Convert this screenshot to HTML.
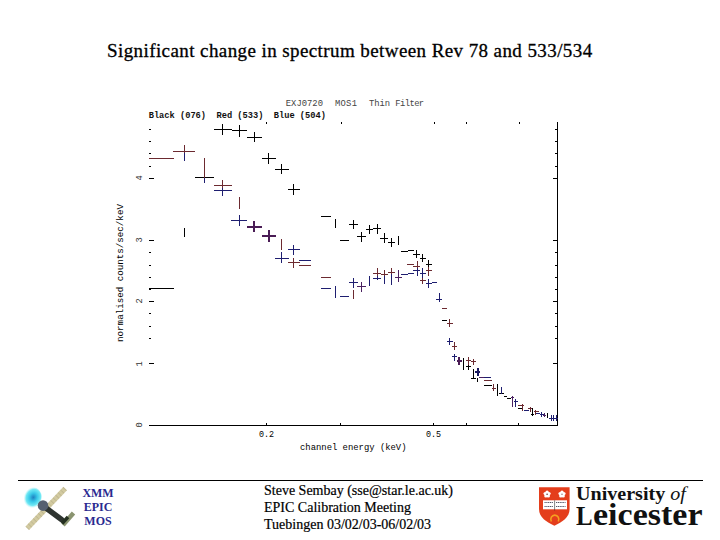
<!DOCTYPE html>
<html><head><meta charset="utf-8">
<style>
html,body{margin:0;padding:0;background:#fff;}
body{width:720px;height:540px;position:relative;overflow:hidden;}
.t{position:absolute;white-space:pre;}
.serif{font-family:"Liberation Serif",serif;}
.mono{font-family:"Liberation Mono",monospace;}
svg{position:absolute;left:0;top:0;}
</style></head><body>
<div class="t serif" id="title" style="left:107px;top:40px;font-size:19px;letter-spacing:0.41px;line-height:22px;color:#000;-webkit-text-stroke:0.3px #000">Significant change in spectrum between Rev 78 and 533/534</div>

<svg width="720" height="540" viewBox="0 0 720 540" shape-rendering="crispEdges" fill="none" stroke-width="1">
<path d="M557.5 122V425.5M149 425.5H558" stroke="#000"/>
<path d="M266.5 423V425M340.5 423V425M433.5 423V425M466.5 423V425M518.5 423V425" stroke="#000"/>
<path d="M266.5 122V124M341.5 122V124M434.5 122V124M466.5 122V124M519.5 122V124" stroke="#000"/>
<path d="M149 425.5H154M553 425.5H558" stroke="#000"/>
<path d="M149 363.5H154M553 363.5H558" stroke="#000"/>
<path d="M149 301.5H154M553 301.5H558" stroke="#000"/>
<path d="M149 240.5H154M553 240.5H558" stroke="#000"/>
<path d="M149 178.5H154M553 178.5H558" stroke="#000"/>
<path d="M149 129.5H151M555 129.5H558" stroke="#000"/>
<path d="M149 141.5H151M555 141.5H558" stroke="#000"/>
<path d="M149 153.5H151M555 153.5H558" stroke="#000"/>
<path d="M149 166.5H151M555 166.5H558" stroke="#000"/>
<path d="M149 252.5H151M555 252.5H558" stroke="#000"/>
<path d="M149 265.5H151M555 265.5H558" stroke="#000"/>
<path d="M149 277.5H151M555 277.5H558" stroke="#000"/>
<path d="M149 289.5H151M555 289.5H558" stroke="#000"/>
<path d="M149 313.5H151M555 313.5H558" stroke="#000"/>
<path d="M149 326.5H151M555 326.5H558" stroke="#000"/>
<path d="M149 338.5H151M555 338.5H558" stroke="#000"/>
<path d="M149 288.5H174" stroke="#000000"/>
<path d="M184.5 228V237" stroke="#000000"/>
<path d="M195 177.5H214" stroke="#000000"/>
<path d="M214 129.5H232" stroke="#000000"/>
<path d="M222.5 124V135" stroke="#000000"/>
<path d="M232 130.5H247" stroke="#000000"/>
<path d="M239.5 125V137" stroke="#000000"/>
<path d="M247 137.5H262" stroke="#000000"/>
<path d="M254.5 132V142" stroke="#000000"/>
<path d="M262 158.5H276" stroke="#000000"/>
<path d="M268.5 153V164" stroke="#000000"/>
<path d="M275 169.5H289" stroke="#000000"/>
<path d="M281.5 164V174" stroke="#000000"/>
<path d="M288 189.5H300" stroke="#000000"/>
<path d="M293.5 184V195" stroke="#000000"/>
<path d="M321 216.5H331" stroke="#000000"/>
<path d="M335.5 219V228" stroke="#000000"/>
<path d="M340 240.5H349" stroke="#000000"/>
<path d="M349 224.5H358" stroke="#000000"/>
<path d="M353.5 220V229" stroke="#000000"/>
<path d="M357 236.5H366" stroke="#000000"/>
<path d="M361.5 232V242" stroke="#000000"/>
<path d="M366 229.5H373" stroke="#000000"/>
<path d="M369.5 225V234" stroke="#000000"/>
<path d="M373 228.5H381" stroke="#000000"/>
<path d="M377.5 224V234" stroke="#000000"/>
<path d="M380 238.5H388" stroke="#000000"/>
<path d="M384.5 233V243" stroke="#000000"/>
<path d="M388 242.5H395" stroke="#000000"/>
<path d="M391.5 238V247" stroke="#000000"/>
<path d="M398.5 236V245" stroke="#000000"/>
<path d="M401 251.5H408" stroke="#000000"/>
<path d="M408 250.5H414" stroke="#000000"/>
<path d="M413 254.5H420" stroke="#000000"/>
<path d="M416.5 250V258" stroke="#000000"/>
<path d="M420 258.5H426" stroke="#000000"/>
<path d="M422.5 254V262" stroke="#000000"/>
<path d="M426 264.5H432" stroke="#000000"/>
<path d="M428.5 260V268" stroke="#000000"/>
<path d="M442 320.5H447" stroke="#000000"/>
<path d="M463.5 358V370" stroke="#000000"/>
<path d="M466 366.5H471" stroke="#000000"/>
<path d="M468.5 362V370" stroke="#000000"/>
<path d="M473.5 369V378" stroke="#000000"/>
<path d="M471 378.5H476" stroke="#000000"/>
<path d="M477.5 378V382" stroke="#000000"/>
<path d="M484 385.5H492" stroke="#000000"/>
<path d="M497.5 384V396" stroke="#000000"/>
<path d="M501.5 388V394" stroke="#000000"/>
<path d="M499 393.5H504" stroke="#000000"/>
<path d="M504 396.5H507" stroke="#000000"/>
<path d="M507 398.5H511" stroke="#000000"/>
<path d="M518 408.5H522" stroke="#000000"/>
<path d="M532.5 408V416" stroke="#000000"/>
<path d="M531 414.5H534" stroke="#000000"/>
<path d="M547.5 413V418" stroke="#000000"/>
<path d="M149 158.5H174" stroke="#6c2a30"/>
<path d="M173 151.5H195" stroke="#6c2a30"/>
<path d="M184.5 145V153" stroke="#6c2a30"/>
<path d="M204.5 158V178" stroke="#6c2a30"/>
<path d="M214 185.5H232" stroke="#6c2a30"/>
<path d="M222.5 180V188" stroke="#6c2a30"/>
<path d="M239.5 197V209" stroke="#6c2a30"/>
<path d="M247 227H262" stroke="#4a1c55" stroke-width="2"/>
<path d="M254 221V232" stroke="#4a1c55" stroke-width="2"/>
<path d="M262 236H276" stroke="#4a1c55" stroke-width="2"/>
<path d="M269 230V242" stroke="#4a1c55" stroke-width="2"/>
<path d="M281.5 239V250" stroke="#6c2a30"/>
<path d="M288 262.5H300" stroke="#6c2a30"/>
<path d="M293.5 258V268" stroke="#6c2a30"/>
<path d="M299 265.5H311" stroke="#6c2a30"/>
<path d="M321 277.5H331" stroke="#6c2a30"/>
<path d="M353.5 290V299" stroke="#6c2a30"/>
<path d="M357 286.5H366" stroke="#4a2060"/>
<path d="M361.5 282V292" stroke="#4a2060"/>
<path d="M373 273.5H381" stroke="#6c2a30"/>
<path d="M377.5 268V276" stroke="#6c2a30"/>
<path d="M381 274.5H388" stroke="#6c2a30"/>
<path d="M384.5 270V276" stroke="#6c2a30"/>
<path d="M388 272.5H395" stroke="#6c2a30"/>
<path d="M391.5 268V274" stroke="#6c2a30"/>
<path d="M395 277.5H402" stroke="#4a2060"/>
<path d="M398.5 270V282" stroke="#4a2060"/>
<path d="M407 264.5H414" stroke="#6c2a30"/>
<path d="M413 266.5H420" stroke="#6c2a30"/>
<path d="M417.5 261V271" stroke="#6c2a30"/>
<path d="M426 270.5H432" stroke="#6c2a30"/>
<path d="M428.5 267V276" stroke="#6c2a30"/>
<path d="M420 280.5H426" stroke="#6c2a30"/>
<path d="M422.5 276V284" stroke="#6c2a30"/>
<path d="M442 308.5H447" stroke="#6c2a30"/>
<path d="M447 323.5H453" stroke="#6c2a30"/>
<path d="M449.5 319V327" stroke="#6c2a30"/>
<path d="M452 346.5H457" stroke="#6c2a30"/>
<path d="M454.5 342V350" stroke="#6c2a30"/>
<path d="M466 360.5H471" stroke="#6c2a30"/>
<path d="M468.5 357V365" stroke="#6c2a30"/>
<path d="M471 361.5H476" stroke="#6c2a30"/>
<path d="M473.5 359V365" stroke="#6c2a30"/>
<path d="M484 380.5H492" stroke="#6c2a30"/>
<path d="M492 388.5H496" stroke="#6c2a30"/>
<path d="M493.5 384V391" stroke="#6c2a30"/>
<path d="M511 397.5H514" stroke="#4a2060"/>
<path d="M512.5 396V407" stroke="#4a2060"/>
<path d="M518 405.5H524" stroke="#6c2a30"/>
<path d="M522.5 404V411" stroke="#6c2a30"/>
<path d="M528 408.5H532" stroke="#6c2a30"/>
<path d="M530.5 407V412" stroke="#6c2a30"/>
<path d="M534 411.5H539" stroke="#6c2a30"/>
<path d="M535.5 410V415" stroke="#6c2a30"/>
<path d="M184.5 153V161" stroke="#1e1e70"/>
<path d="M204.5 178V183" stroke="#1e1e70"/>
<path d="M214 190.5H232" stroke="#1e1e70"/>
<path d="M222.5 188V196" stroke="#1e1e70"/>
<path d="M231 220.5H247" stroke="#1e1e70"/>
<path d="M239.5 215V226" stroke="#1e1e70"/>
<path d="M275 258.5H289" stroke="#1e1e70"/>
<path d="M281.5 252V263" stroke="#1e1e70"/>
<path d="M288 249.5H300" stroke="#1e1e70"/>
<path d="M293.5 245V255" stroke="#1e1e70"/>
<path d="M299 260.5H311" stroke="#1e1e70"/>
<path d="M321 288.5H331" stroke="#1e1e70"/>
<path d="M335.5 286V298" stroke="#1e1e70"/>
<path d="M340 296.5H349" stroke="#1e1e70"/>
<path d="M349 282.5H358" stroke="#1e1e70"/>
<path d="M353.5 278V288" stroke="#1e1e70"/>
<path d="M369.5 276V286" stroke="#1e1e70"/>
<path d="M373 278.5H381" stroke="#1e1e70"/>
<path d="M377.5 276V280" stroke="#1e1e70"/>
<path d="M384.5 276V284" stroke="#1e1e70"/>
<path d="M391.5 274V285" stroke="#1e1e70"/>
<path d="M401 274.5H408" stroke="#1e1e70"/>
<path d="M408 273.5H414" stroke="#1e1e70"/>
<path d="M413 270.5H420" stroke="#1e1e70"/>
<path d="M417.5 268V276" stroke="#1e1e70"/>
<path d="M420 273.5H426" stroke="#1e1e70"/>
<path d="M422.5 268V278" stroke="#1e1e70"/>
<path d="M426 283.5H432" stroke="#1e1e70"/>
<path d="M428.5 279V288" stroke="#1e1e70"/>
<path d="M432 282.5H437" stroke="#1e1e70"/>
<path d="M436 299.5H442" stroke="#1e1e70"/>
<path d="M439.5 293V302" stroke="#1e1e70"/>
<path d="M447 341.5H453" stroke="#1e1e70"/>
<path d="M449.5 338V345" stroke="#1e1e70"/>
<path d="M452 356.5H457" stroke="#1e1e70"/>
<path d="M454.5 354V361" stroke="#1e1e70"/>
<path d="M457 361H462" stroke="#4a1c55" stroke-width="2"/>
<path d="M459 357V365" stroke="#4a1c55" stroke-width="2"/>
<path d="M475 372H480" stroke="#1a1a60" stroke-width="2"/>
<path d="M478 368V376" stroke="#1a1a60" stroke-width="2"/>
<path d="M479 377.5H484" stroke="#4a2060"/>
<path d="M484 377.5H491" stroke="#1e1e70"/>
<path d="M501.5 387V394" stroke="#1e1e70"/>
<path d="M514 401.5H518" stroke="#1e1e70"/>
<path d="M515.5 399V407" stroke="#1e1e70"/>
<path d="M524 410.5H529" stroke="#1e1e70"/>
<path d="M536 413.5H540" stroke="#1e1e70"/>
<path d="M540 414.5H544" stroke="#1e1e70"/>
<path d="M541.5 412V417" stroke="#1e1e70"/>
<path d="M543 415.5H546" stroke="#4a2060"/>
<path d="M544.5 413V417" stroke="#4a2060"/>
<path d="M549 418.5H558" stroke="#1e1e70"/>
<path d="M551.5 415V421" stroke="#1e1e70"/>
<path d="M553.5 415V421" stroke="#1e1e70"/>
<path d="M556.5 415V421" stroke="#1e1e70"/>
</svg>

<div class="t mono" style="left:285.8px;top:99px;font-size:8.85px;line-height:10px;color:#444">EXJ0720</div><div class="t mono" style="left:334.9px;top:99px;font-size:8.85px;line-height:10px;color:#444;letter-spacing:0.3px">MOS1</div><div class="t mono" style="left:368.9px;top:99px;font-size:8.85px;line-height:10px;color:#444">Thin</div><div class="t mono" style="left:395.3px;top:99px;font-size:8.85px;line-height:10px;color:#444;letter-spacing:-0.6px">Filter</div>
<div class="t mono" style="left:148.7px;top:110.8px;font-size:8.7px;line-height:10px;color:#111;font-weight:bold">Black (076)  Red (533)  Blue (504)</div>
<div class="t mono" style="left:300px;top:442.5px;font-size:8.9px;line-height:10px;color:#000;font-weight:normal">channel energy (keV)</div>
<div class="t mono" style="left:259px;top:429.5px;font-size:8.4px;line-height:10px;color:#000;font-weight:normal">0.2</div>
<div class="t mono" style="left:426px;top:429.5px;font-size:8.4px;line-height:10px;color:#000;font-weight:normal">0.5</div>
<div class="t mono" style="left:121px;top:273px;width:0;height:0;"><div style="position:absolute;left:-70px;top:-5px;width:140px;text-align:center;transform:rotate(-90deg);font-size:9.2px;line-height:10px;color:#000;font-weight:normal">normalised counts/sec/keV</div></div>
<div class="t mono" style="left:140.3px;top:425px;width:0;height:0;"><div style="position:absolute;left:-10px;top:-5px;width:20px;text-align:center;transform:rotate(-90deg);font-size:8.7px;line-height:10px;color:#333;font-weight:normal">0</div></div>
<div class="t mono" style="left:140.3px;top:364px;width:0;height:0;"><div style="position:absolute;left:-10px;top:-5px;width:20px;text-align:center;transform:rotate(-90deg);font-size:8.7px;line-height:10px;color:#333;font-weight:normal">1</div></div>
<div class="t mono" style="left:140.3px;top:301px;width:0;height:0;"><div style="position:absolute;left:-10px;top:-5px;width:20px;text-align:center;transform:rotate(-90deg);font-size:8.7px;line-height:10px;color:#333;font-weight:normal">2</div></div>
<div class="t mono" style="left:140.3px;top:240px;width:0;height:0;"><div style="position:absolute;left:-10px;top:-5px;width:20px;text-align:center;transform:rotate(-90deg);font-size:8.7px;line-height:10px;color:#333;font-weight:normal">3</div></div>
<div class="t mono" style="left:140.3px;top:178px;width:0;height:0;"><div style="position:absolute;left:-10px;top:-5px;width:20px;text-align:center;transform:rotate(-90deg);font-size:8.7px;line-height:10px;color:#333;font-weight:normal">4</div></div>

<div style="position:absolute;left:18px;top:480px;width:685px;height:1px;background:#000"></div>

<div class="t serif" style="left:78.4px;top:486.4px;width:40px;text-align:center;font-size:13px;line-height:14px;font-weight:bold;color:#2a2a90;transform:scaleX(0.92)">XMM<br>EPIC<br>MOS</div>

<div class="t serif" style="left:264px;top:481.7px;font-size:14px;line-height:17px;color:#000;-webkit-text-stroke:0.2px #000">Steve Sembay (sse@star.le.ac.uk)<br>EPIC Calibration Meeting<br>Tuebingen 03/02/03-06/02/03</div>

<svg width="720" height="540" viewBox="0 0 720 540">
<!-- satellite -->
<defs>
<radialGradient id="cy" cx="0.55" cy="0.45" r="0.5"><stop offset="0" stop-color="#2080c0"/><stop offset="0.4" stop-color="#38c8e8"/><stop offset="0.75" stop-color="#70e8f4"/><stop offset="1" stop-color="#c0f4f8" stop-opacity="0"/></radialGradient>
</defs>
<ellipse cx="32" cy="498" rx="9.5" ry="11" transform="rotate(25 32 498)" fill="url(#cy)"/>
<path d="M27.3 528.3L65.2 488.5" stroke="#d2caa0" stroke-width="5"/>
<path d="M27.3 528.3L65.2 488.5" stroke="#a8a080" stroke-width="5" stroke-dasharray="0.6 3" opacity="0.6"/>
<path d="M46 508L61.5 519.5" stroke="#2e3430" stroke-width="5.5" stroke-linecap="round"/>
<circle cx="43" cy="505.6" r="5.3" fill="#566070"/>
<path d="M63 525L73.5 513" stroke="#8a9470" stroke-width="4.5"/>
<path d="M62 523.5L68 517" stroke="#243020" stroke-width="3.5"/>
<!-- shield -->
<path d="M539 487.3H569.6V509C569.6 517.5 562 522 554.4 525.8C546.6 522 539 517.5 539 509Z" fill="#e43e1c"/>
<g fill="#fff"><circle cx="547.1" cy="492.2" r="1.7"/><circle cx="549" cy="493.6" r="1.7"/><circle cx="548.3" cy="495.9" r="1.7"/><circle cx="545.9" cy="495.9" r="1.7"/><circle cx="545.2" cy="493.6" r="1.7"/><circle cx="547.1" cy="494.4" r="1.5"/>
<circle cx="562" cy="492.2" r="1.7"/><circle cx="563.9" cy="493.6" r="1.7"/><circle cx="563.2" cy="495.9" r="1.7"/><circle cx="560.8" cy="495.9" r="1.7"/><circle cx="560.1" cy="493.6" r="1.7"/><circle cx="562" cy="494.4" r="1.5"/></g>
<circle cx="547.1" cy="494.2" r="0.8" fill="#603030"/><circle cx="562" cy="494.2" r="0.8" fill="#a08080"/>
<rect x="543" y="500.3" width="24" height="9" fill="#fff"/>
<path d="M544.5 502.5H553M556 502.5H565.5M544.5 506.5H553M556 506.5H565.5" stroke="#556" stroke-width="1" stroke-dasharray="1.2 0.6"/>
<path d="M554.6 500.3V510.5" stroke="#333" stroke-width="0.6"/>
<path d="M551.3 521.5A4 4.3 0 1 1 558.3 521.5" fill="none" stroke="#f5a020" stroke-width="1.6"/>
</svg>
<div class="t serif" style="left:576px;top:485.4px;font-size:18px;line-height:18px;font-weight:bold;color:#111;transform-origin:0 0;transform:scaleX(1.115)">University <i style="font-weight:normal">of</i></div>
<div class="t serif" style="left:576px;top:502.8px;font-size:27px;line-height:27px;font-weight:bold;color:#111;transform-origin:0 0;transform:scaleX(0.92)">L</div><div class="t serif" style="left:592.5px;top:499px;font-size:31.5px;line-height:31.5px;font-weight:bold;color:#111;transform-origin:0 0;transform:scaleX(1.08)">eicester</div>
</body></html>
